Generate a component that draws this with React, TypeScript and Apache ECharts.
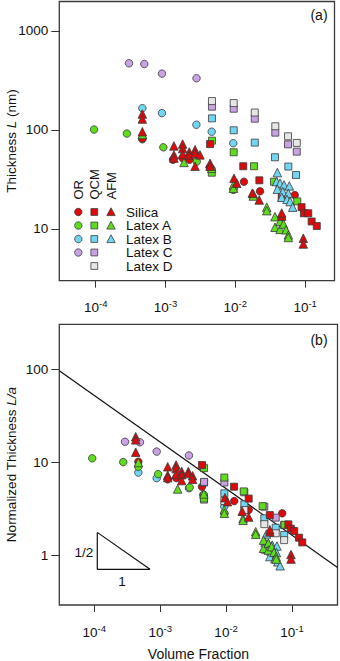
import React, { useEffect, useRef } from 'react';
import * as echarts from 'echarts';

type P = [number, number];

// ---------- labels ----------
const panelTitles = ['(a)', '(b)'];
const methodNames = ['OR', 'QCM', 'AFM'];
const groupNames = ['Silica', 'Latex A', 'Latex B', 'Latex C', 'Latex D'];
const xTicks = [1e-4, 1e-3, 1e-2, 1e-1];
const yTicksA = [10, 100, 1000];
const yTicksB = [1, 10, 100];
const yNameA = '{n|Thickness }{i|L}{n| (nm)}';
const yNameB = '{n|Normalized Thickness }{i|L/a}';
const xNameB = 'Volume Fraction';
const slopeLabels = ['1/2', '1'];

// ---------- panel (a): thickness L (nm) vs volume fraction ----------
const silicaOR_a: P[] = [[4.66e-4, 82], [1.28e-3, 50], [1.76e-3, 52], [2.2e-3, 50], [4.3e-3, 42], [1.33e-2, 30], [2.26e-2, 24], [4.62e-2, 13], [7.1e-2, 22]];
const silicaQCM_a: P[] = [[4.35e-3, 72], [1.3e-2, 43], [2.21e-2, 31], [4.62e-2, 21], [8.9e-2, 16.6], [9.6e-2, 14.4], [0.111, 14.4], [0.124, 11.9], [0.147, 10.7]];
const silicaAFM_a: P[] = [[4.66e-4, 145], [4.66e-4, 129], [4.66e-4, 96], [1.32e-3, 69], [1.32e-3, 56], [1.32e-3, 52], [1.76e-3, 72], [1.76e-3, 65], [1.76e-3, 57], [2.19e-3, 60], [2.19e-3, 56], [2.65e-3, 63], [2.65e-3, 58], [3.12e-3, 56], [2.65e-3, 43], [4.35e-3, 46], [4.35e-3, 43], [9.57e-3, 32.5], [1.05e-2, 29], [1.75e-2, 23], [2.2e-2, 19.6], [4.62e-2, 13.5], [4.62e-2, 14.5], [9.42e-2, 8.05], [9.42e-2, 7.05]];
const latexA_OR_a: P[] = [[9.46e-5, 101], [2.8e-4, 92], [4.66e-4, 80.5], [9.3e-4, 66.8], [2.8e-3, 48], [4.6e-3, 40], [9.4e-3, 24.8]];
const latexA_QCM_a: P[] = [[4.63e-3, 78], [4.6e-3, 37], [9.48e-3, 59.5], [1.85e-2, 43], [3.58e-2, 30], [7.72e-2, 19]];
const latexA_AFM_a: P[] = [[4.66e-4, 90], [1.84e-3, 47], [4.59e-3, 41], [9.4e-3, 27.8], [9.4e-3, 25.8], [1.81e-2, 22.6], [1.81e-2, 21.5], [2.82e-2, 16.6], [2.82e-2, 15.3], [3.7e-2, 13.3], [3.7e-2, 10.4], [4.37e-2, 11.9], [4.37e-2, 9.9], [4.9e-2, 11.2], [5.33e-2, 9.8], [5.75e-2, 8.7], [5.75e-2, 8.2]];
const latexB_OR_a: P[] = [[4.66e-4, 166], [8.9e-4, 148], [2.77e-3, 113], [4.59e-3, 96], [9.35e-3, 73.5]];
const latexB_QCM_a: P[] = [[4.63e-3, 131], [9.48e-3, 99.3], [1.9e-2, 74.5], [3.7e-2, 53], [5.75e-2, 42.7], [7.4e-2, 35.1]];
const latexB_AFM_a: P[] = [[4.0e-2, 37.1], [3.9e-2, 30.1], [4.37e-2, 29], [4.99e-2, 27.8], [5.94e-2, 27.2], [4.0e-2, 25.2], [4.8e-2, 23.8], [5.75e-2, 22.9], [4.62e-2, 20.9], [5.5e-2, 19.9], [6.1e-2, 18.9], [6.64e-2, 16.6]];
const latexC_OR_a: P[] = [[3.0e-4, 472], [4.97e-4, 464], [8.9e-4, 371], [2.78e-3, 333]];
const latexC_QCM_a: P[] = [[4.63e-3, 172], [9.48e-3, 164], [1.9e-2, 130], [3.74e-2, 94], [5.69e-2, 71.6], [7.59e-2, 60.4]];
const latexD_QCM_a: P[] = [[4.63e-3, 196], [9.48e-3, 187], [1.9e-2, 150], [3.74e-2, 109], [5.69e-2, 86.3], [7.59e-2, 74]];

// ---------- panel (b): normalized thickness L/a vs volume fraction ----------
const silicaOR_b: P[] = [[4.66e-4, 10.2], [1.3e-3, 6.6], [1.76e-3, 6.8], [4.3e-3, 5.5], [1.33e-2, 3.86], [2.2e-2, 3.1], [4.62e-2, 1.75], [7.1e-2, 2.85]];
const silicaQCM_b: P[] = [[4.3e-3, 9.4], [1.32e-2, 5.5], [2.2e-2, 4.1], [4.6e-2, 2.73], [8.8e-2, 2.17], [9.6e-2, 1.95], [0.108, 1.84], [0.128, 1.56], [0.143, 1.39]];
const silicaAFM_b: P[] = [[4.25e-4, 18.9], [4.25e-4, 17.5], [4.25e-4, 12.9], [1.3e-3, 9.0], [1.3e-3, 7.3], [1.3e-3, 6.9], [1.74e-3, 9.4], [1.74e-3, 8.6], [1.74e-3, 7.5], [2.12e-3, 8.0], [2.12e-3, 7.4], [2.67e-3, 8.0], [2.67e-3, 7.6], [3.1e-3, 7.2], [3.1e-3, 6.6], [2.12e-3, 6.4], [9.6e-3, 4.2], [1.05e-2, 3.8], [1.75e-2, 3.0], [2.2e-2, 2.6], [4.6e-2, 1.8], [4.6e-2, 1.9], [9.66e-2, 1.03], [9.66e-2, 0.92]];
const latexA_OR_b: P[] = [[9.3e-5, 11.1], [2.75e-4, 10.1], [4.66e-4, 9.0], [9.3e-4, 7.5], [2.8e-3, 5.4], [4.6e-3, 4.5], [9.4e-3, 2.85]];
const latexA_QCM_b: P[] = [[4.63e-3, 8.7], [4.6e-3, 4.1], [9.4e-3, 6.9], [1.85e-2, 4.9], [3.58e-2, 3.4], [7.72e-2, 2.15]];
const latexA_AFM_b: P[] = [[4.66e-4, 10.0], [1.84e-3, 5.2], [4.59e-3, 4.6], [9.4e-3, 3.1], [9.4e-3, 2.85], [1.81e-2, 2.52], [1.81e-2, 2.4], [2.81e-2, 1.81], [2.81e-2, 1.7], [3.7e-2, 1.47], [3.7e-2, 1.2], [4.37e-2, 1.36], [4.37e-2, 1.15], [4.9e-2, 1.25], [5.33e-2, 1.09], [5.75e-2, 0.98], [5.75e-2, 0.92]];
const latexB_OR_b: P[] = [[4.66e-4, 7.8], [8.85e-4, 6.8], [2.73e-3, 5.3], [4.5e-3, 4.5], [9.4e-3, 3.36]];
const latexB_QCM_b: P[] = [[4.63e-3, 6.1], [9.4e-3, 4.67], [1.89e-2, 3.56], [3.8e-2, 2.52], [5.66e-2, 2.0], [7.6e-2, 1.67]];
const latexB_AFM_b: P[] = [[4.1e-2, 1.71], [3.9e-2, 1.4], [4.4e-2, 1.35], [5e-2, 1.3], [5.9e-2, 1.27], [4.0e-2, 1.18], [4.8e-2, 1.12], [5.8e-2, 1.08], [4.6e-2, 0.98], [5.5e-2, 0.93], [6.1e-2, 0.86], [6.6e-2, 0.78]];
const latexC_OR_b: P[] = [[2.92e-4, 16.7], [4.93e-4, 16.5], [8.85e-4, 13.1], [2.73e-3, 11.9]];
const latexC_QCM_b: P[] = [[4.63e-3, 6.2], [9.4e-3, 6.1], [1.89e-2, 4.79], [3.8e-2, 3.36], [5.66e-2, 2.56], [7.6e-2, 2.13]];
const latexD_QCM_b: P[] = [[4.63e-3, 4.0], [9.4e-3, 3.86], [1.89e-2, 3.09], [3.8e-2, 2.18], [5.66e-2, 1.74], [7.6e-2, 1.47]];

// power-law guide line (slope -1/2) and slope triangle, panel (b)
const fitLine: P[] = [[2.944e-5, 96.6], [0.49, 0.749]];
const slopeTriangle: P[] = [[1.11e-4, 1.78], [1.11e-4, 0.715], [7.0e-4, 0.715], [1.11e-4, 1.78]];

// ---------- style ----------
const FONT = '"Liberation Sans", Arial, Helvetica, sans-serif';
const RED = '#dc0a0a';
const GREEN = '#5fdc1e';
const CYAN = '#72d6f2';
const PURPLE = '#c8a2e3';
const GRAY = '#e6e6e6';
const EDGE = '#3a3a3a';
const SZ = { circle: 7.5, rect: 7, triangle: 8.5 } as Record<string, number>;

function sc(name: string, data: P[], idx: number, symbol: string, color: string) {
  return {
    name,
    type: 'scatter',
    xAxisIndex: idx,
    yAxisIndex: idx,
    data,
    symbol,
    symbolSize: SZ[symbol],
    silent: true,
    itemStyle: { color, borderColor: EDGE, borderWidth: 0.8, opacity: 1 },
  };
}

function panelSeries(idx: number, d: Record<string, P[]>) {
  return [
    sc('Latex C OR', d.cOR, idx, 'circle', PURPLE),
    sc('Latex B OR', d.bOR, idx, 'circle', CYAN),
    sc('Latex A OR', d.aOR, idx, 'circle', GREEN),
    sc('Silica OR', d.sOR, idx, 'circle', RED),
    sc('Latex B QCM', d.bQCM, idx, 'rect', CYAN),
    sc('Latex C QCM', d.cQCM, idx, 'rect', PURPLE),
    sc('Latex D QCM', d.dQCM, idx, 'rect', GRAY),
    sc('Latex A QCM', d.aQCM, idx, 'rect', GREEN),
    sc('Silica QCM', d.sQCM, idx, 'rect', RED),
    sc('Latex B AFM', d.bAFM, idx, 'triangle', CYAN),
    sc('Latex A AFM', d.aAFM, idx, 'triangle', GREEN),
    sc('Silica AFM', d.sAFM, idx, 'triangle', RED),
  ];
}

const expLabel = (v: number) => {
  const e = Math.round(Math.log10(v));
  return `{b|10}{s|${e}}`;
};

function xAxisCfg(idx: number, min: number, max: number, withName: boolean) {
  return {
    type: 'log',
    logBase: 10,
    gridIndex: idx,
    min,
    max,
    name: withName ? xNameB : '',
    nameLocation: 'middle',
    nameGap: 42,
    nameTextStyle: { fontFamily: FONT, fontSize: 14, color: '#111' },
    axisLine: { show: false },
    splitLine: { show: false },
    minorTick: { show: false },
    axisTick: { show: true, inside: false, length: 7, lineStyle: { color: '#333', width: 1 }, customValues: xTicks },
    axisLabel: {
      customValues: xTicks,
      margin: 18,
      formatter: expLabel,
      color: '#111',
      rich: {
        b: { fontFamily: FONT, fontSize: 13.5, lineHeight: 18, color: '#111' },
        s: { fontFamily: FONT, fontSize: 9.5, verticalAlign: 'top', color: '#111' },
      },
    },
  };
}

function yAxisCfg(idx: number, min: number, max: number, ticks: number[]) {
  return {
    type: 'log',
    logBase: 10,
    gridIndex: idx,
    min,
    max,
    axisLine: { show: false },
    splitLine: { show: false },
    minorTick: { show: false },
    axisTick: { show: true, inside: false, length: 8, lineStyle: { color: '#333', width: 1 }, customValues: ticks },
    axisLabel: {
      customValues: ticks,
      margin: 11,
      fontFamily: FONT,
      fontSize: 13.5,
      color: '#111',
      formatter: (v: number) => String(Math.round(v)),
    },
  };
}

function yNameEl(text: string, cx: number, cy: number) {
  return {
    type: 'text',
    x: cx,
    y: cy,
    rotation: Math.PI / 2,
    z: 100,
    style: {
      text,
      fill: '#111',
      font: `13.5px ${FONT}`,
      textAlign: 'center', textVerticalAlign: 'middle', align: 'center', verticalAlign: 'middle',
      rich: {
        n: { fontFamily: FONT, fontSize: 13.5, fill: '#111', color: '#111' },
        i: { fontFamily: FONT, fontSize: 13.5, fontStyle: 'italic', fill: '#111', color: '#111' },
      },
    },
  };
}

function legendGraphics() {
  const els: any[] = [];
  const colX = [78.3, 94.3, 111];
  const headBottom = 199.5;
  methodNames.forEach((m, i) => {
    els.push({
      type: 'text',
      x: colX[i] + 0.5,
      y: headBottom,
      rotation: Math.PI / 2,
      z: 100,
      style: { text: m, font: `13px ${FONT}`, fill: '#111', textAlign: 'left', textVerticalAlign: 'middle', align: 'left', verticalAlign: 'middle' },
    });
  });
  const rowY = [212, 225.5, 239, 252.5, 266];
  const colors = [RED, GREEN, CYAN, PURPLE, GRAY];
  const present = [[1, 1, 1], [1, 1, 1], [1, 1, 1], [1, 1, 0], [0, 1, 0]];
  const st = (c: string) => ({ fill: c, stroke: EDGE, lineWidth: 0.8 });
  groupNames.forEach((g, r) => {
    const y = rowY[r];
    if (present[r][0]) els.push({ type: 'circle', z: 100, shape: { cx: colX[0], cy: y, r: 3.7 }, style: st(colors[r]) });
    if (present[r][1]) els.push({ type: 'rect', z: 100, shape: { x: colX[1] - 3.4, y: y - 3.4, width: 6.8, height: 6.8 }, style: st(colors[r]) });
    if (present[r][2]) els.push({ type: 'polygon', z: 100, shape: { points: [[colX[2], y - 4.2], [colX[2] + 4.2, y + 3.6], [colX[2] - 4.2, y + 3.6]] }, style: st(colors[r]) });
    els.push({
      type: 'text', x: 126, y, z: 100,
      style: { text: g, font: `13.5px ${FONT}`, fill: '#111', textAlign: 'left', textVerticalAlign: 'middle', align: 'left', verticalAlign: 'middle' },
    });
  });
  return els;
}

function textEl(text: string, x: number, y: number, size: number) {
  return {
    type: 'text', x, y, z: 100,
    style: { text, font: `${size}px ${FONT}`, fill: '#111', textAlign: 'center', textVerticalAlign: 'middle', align: 'center', verticalAlign: 'middle' },
  };
}

export default function App() {
  const ref = useRef<HTMLDivElement>(null);
  useEffect(() => {
    if (!ref.current) return;
    const chart = echarts.init(ref.current, undefined, { renderer: 'svg' });
    const dataA = {
      sOR: silicaOR_a, sQCM: silicaQCM_a, sAFM: silicaAFM_a,
      aOR: latexA_OR_a, aQCM: latexA_QCM_a, aAFM: latexA_AFM_a,
      bOR: latexB_OR_a, bQCM: latexB_QCM_a, bAFM: latexB_AFM_a,
      cOR: latexC_OR_a, cQCM: latexC_QCM_a, dQCM: latexD_QCM_a,
    };
    const dataB = {
      sOR: silicaOR_b, sQCM: silicaQCM_b, sAFM: silicaAFM_b,
      aOR: latexA_OR_b, aQCM: latexA_QCM_b, aAFM: latexA_AFM_b,
      bOR: latexB_OR_b, bQCM: latexB_QCM_b, bAFM: latexB_AFM_b,
      cOR: latexC_OR_b, cQCM: latexC_QCM_b, dQCM: latexD_QCM_b,
    };
    const gridBase = { show: true, borderColor: '#3a3a3a', borderWidth: 1.3, backgroundColor: 'transparent', containLabel: false, outerBoundsMode: 'none' };
    const option: any = {
      animation: false,
      backgroundColor: '#fff',
      grid: [
        { ...gridBase, left: 59.3, top: 1.5, width: 275.2, height: 279.2 },
        { ...gridBase, left: 59.3, top: 324.3, width: 278.2, height: 280.7 },
      ],
      xAxis: [xAxisCfg(0, 3.01e-5, 0.2636, false), xAxisCfg(1, 2.944e-5, 0.49, true)],
      yAxis: [yAxisCfg(0, 3.0, 1986, yTicksA), yAxisCfg(1, 0.296, 304, yTicksB)],
      series: [
        {
          type: 'line', xAxisIndex: 1, yAxisIndex: 1, data: fitLine, symbol: 'none', silent: true,
          lineStyle: { color: '#111', width: 1.2 }, z: 1,
        },
        {
          type: 'line', xAxisIndex: 1, yAxisIndex: 1, data: slopeTriangle, symbol: 'none', silent: true,
          lineStyle: { color: '#111', width: 1.2 }, z: 1,
        },
        ...panelSeries(0, dataA),
        ...panelSeries(1, dataB),
      ],
      graphic: [
        yNameEl(yNameA, 11, 141),
        yNameEl(yNameB, 11, 464.6),
        textEl(panelTitles[0], 319, 15, 14),
        textEl(panelTitles[1], 319, 340, 14),
        textEl(slopeLabels[0], 84, 552, 13.5),
        textEl(slopeLabels[1], 122, 581, 13.5),
        ...legendGraphics(),
      ],
    };
    chart.setOption(option);
    return () => chart.dispose();
  }, []);
  return <div ref={ref} style={{ position: 'fixed', left: 0, top: 0, width: 340, height: 661, background: '#fff' }} />;
}
